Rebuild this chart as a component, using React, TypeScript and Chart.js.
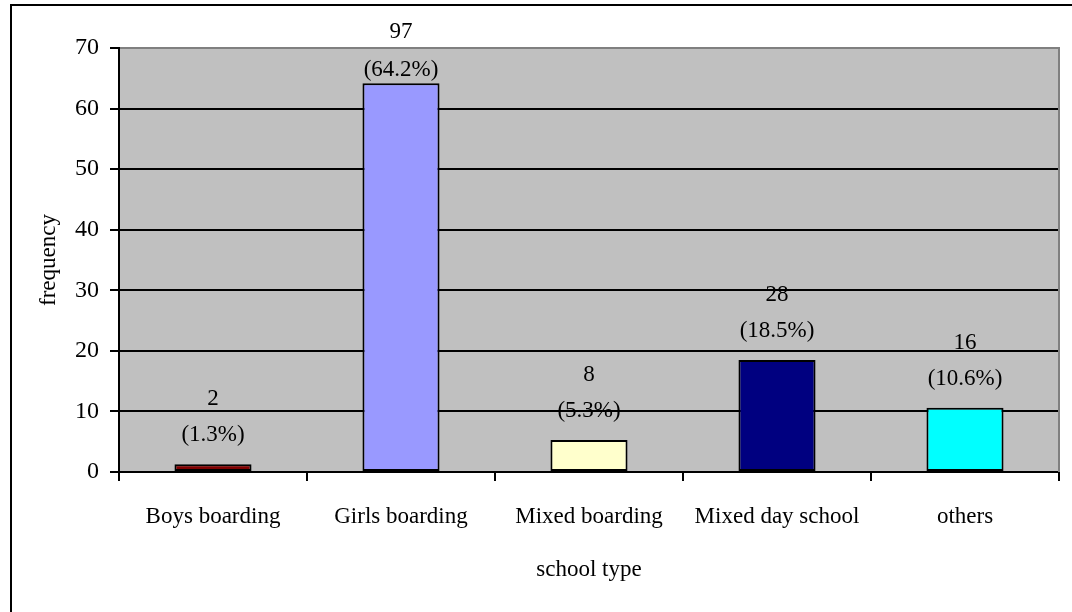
import React, { useEffect, useRef } from "react";
import { Chart, registerables } from "chart.js";

Chart.register(...registerables);

const categories = ["Boys boarding", "Girls boarding", "Mixed boarding", "Mixed day school", "others"];
const counts = [2, 97, 8, 28, 16];
const percents = [1.3, 64.2, 5.3, 18.5, 10.6];
const barColors = ["#800000", "#9999FF", "#FFFFCC", "#000080", "#00FFFF"];
const yTitle = "frequency";
const xTitle = "school type";

const FONT = "'Liberation Serif', 'Times New Roman', serif";

const framePlugin = {
  id: "frame",
  beforeDraw(chart: any) {
    const { ctx, chartArea, width, height } = chart;
    ctx.save();
    ctx.fillStyle = "#ffffff";
    ctx.fillRect(0, 0, width, height);
    ctx.strokeStyle = "#000000";
    ctx.lineWidth = 2;
    ctx.beginPath();
    ctx.moveTo(11, height + 2);
    ctx.lineTo(11, 5);
    ctx.lineTo(width + 2, 5);
    ctx.stroke();
    ctx.fillStyle = "#C0C0C0";
    ctx.fillRect(chartArea.left, chartArea.top, chartArea.right - chartArea.left, chartArea.bottom - chartArea.top);
    ctx.restore();
  },
  afterDatasetsDraw(chart: any) {
    const { ctx, chartArea } = chart;
    ctx.save();
    ctx.strokeStyle = "#808080";
    ctx.lineWidth = 2;
    ctx.beginPath();
    ctx.moveTo(chartArea.left + 1, chartArea.top);
    ctx.lineTo(chartArea.right, chartArea.top);
    ctx.lineTo(chartArea.right, chartArea.bottom);
    ctx.stroke();
    const meta = chart.getDatasetMeta(0);
    ctx.fillStyle = "#000000";
    ctx.font = `23px ${FONT}`;
    ctx.textAlign = "center";
    ctx.textBaseline = "middle";
    meta.data.forEach((bar: any, i: number) => {
      let pY = bar.y - 29;
      let cY = pY - 36;
      if (cY < 32) {
        cY = 32;
        pY = 70;
      }
      ctx.fillText(String(counts[i]), bar.x, cY);
      ctx.fillText(`(${percents[i]}%)`, bar.x, pY);
    });
    ctx.restore();
  },
};

export default function App() {
  const ref = useRef<HTMLCanvasElement>(null);
  useEffect(() => {
    document.body.style.margin = "0";
    const chart = new Chart(ref.current!, {
      type: "bar",
      data: {
        labels: categories,
        datasets: [
          {
            data: percents,
            backgroundColor: barColors,
            borderColor: "#000000",
            borderWidth: 2,
            borderSkipped: false,
            barPercentage: 0.41,
            categoryPercentage: 1,
          },
        ],
      },
      options: {
        animation: false,
        responsive: false,
        devicePixelRatio: 1,
        layout: { padding: { top: 48, right: 13, left: 0, bottom: 0 } },
        plugins: { legend: { display: false }, tooltip: { enabled: false } },
        scales: {
          x: {
            type: "category",
            offset: true,
            grid: {
              display: true,
              offset: true,
              drawOnChartArea: false,
              drawTicks: true,
              tickLength: 9,
              color: "#000000",
              lineWidth: 2,
            },
            border: { display: true, color: "#000000", width: 2 },
            ticks: {
              color: "#000000",
              font: { family: FONT, size: 23 },
              padding: 22,
              maxRotation: 0,
              autoSkip: false,
            },
            title: {
              display: true,
              text: xTitle,
              color: "#000000",
              font: { family: FONT, size: 23 },
              padding: { top: 0, bottom: 28 },
            },
            afterFit: (s: any) => {
              s.height = 140;
            },
          },
          y: {
            min: 0,
            max: 70,
            ticks: {
              stepSize: 10,
              color: "#000000",
              font: { family: FONT, size: 24 },
              padding: 11,
            },
            grid: { color: "#000000", lineWidth: 2, tickLength: 9 },
            border: { display: true, color: "#000000", width: 2 },
            title: {
              display: true,
              text: yTitle,
              color: "#000000",
              font: { family: FONT, size: 23 },
              padding: { top: 35, bottom: 0 },
            },
            afterFit: (s: any) => {
              s.width = 119;
            },
          },
        },
      },
      plugins: [framePlugin],
    });
    return () => chart.destroy();
  }, []);
  return (
    <div style={{ width: 1072, height: 612 }}>
      <canvas ref={ref} width={1072} height={612} style={{ display: "block" }} />
    </div>
  );
}
